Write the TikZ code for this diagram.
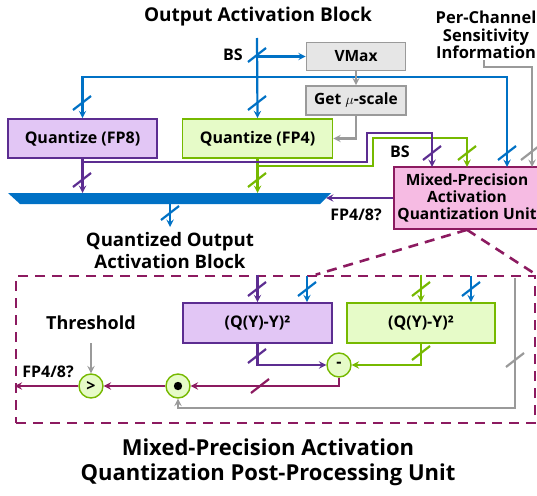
\documentclass[tikz,border=0pt]{standalone}
\usepackage{fontspec}
\setmainfont{Open Sans}
\usetikzlibrary{calc}
\tikzset{>=stealth}
\definecolor{nvblue}{HTML}{0071C5}
\definecolor{purpline}{HTML}{5C2D91}
\definecolor{purpfill}{HTML}{E2C6F5}
\definecolor{grnline}{HTML}{76B900}
\definecolor{grnfill}{HTML}{E6FBC8}
\definecolor{magline}{HTML}{8C1A60}
\definecolor{pinkfill}{HTML}{F6BBE3}
\definecolor{grayline}{HTML}{9A9A9A}
\definecolor{grayfill}{HTML}{E6E6E6}
\newcommand{\bus}[2][]{\draw[#1] ($(#2)+(-9,7)$) -- ++(18,-14);}

\begin{document}
\begin{tikzpicture}[x=1pt,y=-1pt,line width=2.2pt,font=\bfseries\fontsize{16}{18}\selectfont,
  box/.style={draw,line width=1.6pt,inner sep=0pt},
  qbox/.style={box,minimum width=149pt,minimum height=39pt},
  purpbox/.style={qbox,fill=purpfill,draw=purpline},
  grnbox/.style={qbox,fill=grnfill,draw=grnline},
  graybox/.style={box,fill=grayfill,draw=grayline,minimum width=99pt,minimum height=28pt,font=\bfseries\fontsize{15.5}{18}\selectfont},
  op/.style={circle,draw=grnline,fill=grnfill,line width=1.4pt,minimum size=24pt,inner sep=0pt},
  blueln/.style={nvblue}, purpln/.style={purpline}, grnln/.style={grnline},
  magln/.style={magline}, grayln/.style={grayline},
  magdash/.style={draw=magline,line width=2.6pt,dash pattern=on 10pt off 7pt}]
    \useasboundingbox (0,0) rectangle (537,495);
    \node[font=\bfseries\fontsize{19}{22}\selectfont] (title) at (258,17) {Output Activation Block};
    \node[align=center,font=\bfseries\fontsize{16.5}{17.5}\selectfont] (info) at (486,35) {Per-Channel\\Sensitivity\\Information};
    \node[graybox] (vmax) at (356,56.5) {VMax};
    \node[graybox,minimum width=100pt,minimum height=29pt] (mu) at (356,100.5) {Get $\mu$-scale};
    \node[purpbox] (q8) at (82.5,138.5) {Quantize (FP8)};
    \node[grnbox,minimum width=150pt] (q4) at (257.5,138.5) {Quantize (FP4)};
    \node[box,fill=pinkfill,draw=magline,minimum width=146pt,minimum height=62pt,align=center,font=\bfseries\fontsize{15.5}{17}\selectfont] (mpu) at (467,198) {Mixed-Precision\\Activation\\Quantization Unit};
    \fill[nvblue] (8,193) coordinate (barL) -- (331,193) -- (320,204) -- (20,204) -- cycle;
    \coordinate (barR) at (326,198);
    \coordinate (barB) at (170,204);
    \node[align=center,font=\bfseries\fontsize{18.6}{22}\selectfont] (qout) at (170,251) {Quantized Output\\Activation Block};
    \coordinate (bs) at (257,38);
    \coordinate (bsV) at (257,56.5);
    \coordinate (bT) at (257,77);
    \coordinate (inP) at (432,167);
    \coordinate (inG) at (467,167);
    \coordinate (inB) at (507,167);
    \coordinate (inY) at (532,167);
    \coordinate (infoB) at (484,60);
    \coordinate (pA) at (82,162);
    \coordinate (gA) at (257,166);
    % top part
    \draw[blueln,->] (bs) -- (q4.north);
    \draw[blueln,->] (bsV) -- (vmax.west);
    \draw[blueln,->] (bT) -| (q8.north);
    \draw[blueln,->] (bT) -| (inB);
    \node (bs1) at (233,55) {BS};
    \bus[blueln]{257,55}
    \bus[blueln]{82,103}
    \bus[blueln]{257,103}
    \draw[grayln,->] (vmax.south) -- (mu.north);
    \draw[grayln,->] (mu.south) |- (q4.east);
    \draw[grayln,->] (infoB) -- ++(0,7) -| (inY);
    \draw[grnln,->] (q4.south) -- (q4.south |- barL);
    \draw[grnln,->] (gA) -| (373,138) -| (inG);
    \draw[purpln,->] (q8.south) -- (q8.south |- barL);
    \draw[purpln,->] (pA) -| (367,133) -| (inP);
    \bus[purpln]{82,180}
    \bus[grnln]{257,180}
    \bus[purpln]{432,153}
    \bus[grnln]{467,153}
    \bus[blueln]{507,153}
    \bus[grayln]{530,153}
    \node (bs2) at (400,152) {BS};
    \draw[purpln,->] (mpu.west) -- (barR);
    \node (fp1) at (356,215) {FP4/8?};
    \draw[blueln,->] (barB) -- (170,227);
    \bus[blueln]{170,213}
    % post-processing unit
    \node[magdash,minimum width=519pt,minimum height=147pt] (ppu) at (275.5,349.5) {};
    \draw[magdash] (mpu.south) -- ($(ppu.north west)+(301,0)$);
    \draw[magdash] (mpu.south) -- (ppu.north east);
    \node[font=\bfseries\fontsize{18}{20}\selectfont] (thr) at (91,323) {Threshold};
    \node[op] (gt) at (91,386) {>};
    \node[op] (dot) at (178,386) {};
    \fill (dot.center) circle (4.2);
    \node[op] (minus) at (339,365) {-};
    \node[purpbox,minimum height=40pt] (sqp) at (257.5,323) {(Q(Y)-Y)²};
    \node[grnbox,minimum width=148pt,minimum height=40pt] (sqg) at (421,323) {(Q(Y)-Y)²};
    \coordinate (sqpB) at (307,276);
    \coordinate (sqgB) at (471,276);
    \coordinate (thrB) at (91,343);
    \coordinate (gS) at (515,278);
    \draw[purpln,->] (sqp.north |- ppu.north) -- (sqp.north);
    \draw[blueln,->] (sqpB) -- (sqpB |- sqp.north);
    \draw[grnln,->] (sqg.north |- ppu.north) -- (sqg.north);
    \draw[blueln,->] (sqgB) -- (sqgB |- sqg.north);
    \bus[purpln]{257,289}
    \bus[blueln]{307,289}
    \bus[grnln]{421,289}
    \bus[blueln]{471,289}
    \draw[purpln,->] (sqp.south) |- (minus.west);
    \draw[grnln,->] (sqg.south) |- (minus.east);
    \bus[purpln]{257,356}
    \bus[grnln]{421,353}
    \draw[magln,->] (minus.south) |- (dot.east);
    \bus[magln]{260,386}
    \draw[magln,->] (dot.west) -- (gt.east);
    \draw[magln,->] (gt.west) -- (gt.west -| ppu.west);
    \node (fp2) at (48,372) {FP4/8?};
    \draw[grayln,->] (thrB) -- (gt.north);
    \draw[grayln,->] (gS) -- (515,408) -| (dot.south);
    \bus[grayln]{515,360}
    \node[align=center,font=\bfseries\fontsize{22}{25}\selectfont] (sub) at (268,462) {Mixed-Precision Activation\\Quantization Post-Processing Unit};
\end{tikzpicture}
\end{document}
